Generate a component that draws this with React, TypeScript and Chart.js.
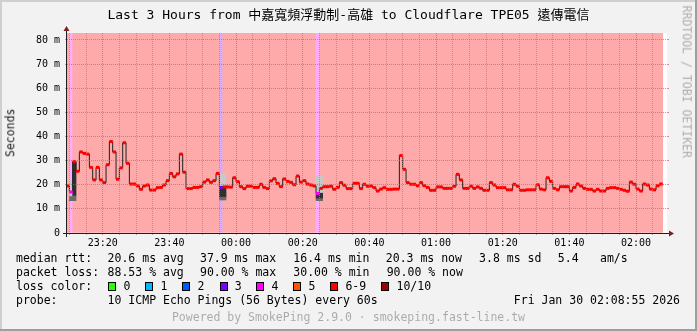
import React, { useEffect, useRef } from 'react';
import { Chart, registerables } from 'chart.js';

Chart.register(...registerables);

const MONO = "'DejaVu Sans Mono', 'Noto Sans CJK TC', monospace";

// ---------- text ----------
const titleText = 'Last 3 Hours from 中嘉寬頻浮動制-高雄 to Cloudflare TPE05 遠傳電信';
const yAxisTitle = 'Seconds';
const sideText = 'RRDTOOL / TOBI OETIKER';
const footerText = 'Powered by SmokePing 2.9.0 · smokeping.fast-line.tw';

const rttHeading = 'median rtt:';
const rttStats = ['20.6 ms avg', '37.9 ms max', '16.4 ms min', '20.3 ms now', '3.8 ms sd', '5.4', 'am/s'];
const lossHeading = 'packet loss:';
const lossStats = ['88.53 % avg', '90.00 % max', '30.00 % min', '90.00 % now'];
const colorHeading = 'loss color:';
const lossLegendLabels = ['0', '1', '2', '3', '4', '5', '6-9', '10/10'];
const lossLegendColors = ['#26ff00', '#00b8ff', '#0059ff', '#7e00ff', '#ff00ff', '#ff5500', '#ff0000', '#a10000'];
const probeHeading = 'probe:';
const probeText = '10 ICMP Echo Pings (56 Bytes) every 60s';
const dateText = 'Fri Jan 30 02:08:55 2026';

// ---------- axes (minutes relative to 23:20) ----------
const viewStart = -10.71;
const viewEnd = 169.29;
const yTop = 82.9;
const timeTickMinutes = [0, 20, 40, 60, 80, 100, 120, 140, 160];
const timeTickLabels = ['23:20', '23:40', '00:00', '00:20', '00:40', '01:00', '01:20', '01:40', '02:00'];
const yTickValues = [0, 10, 20, 30, 40, 50, 60, 70, 80];
const yTickLabels = ['0', '10 m', '20 m', '30 m', '40 m', '50 m', '60 m', '70 m', '80 m'];

// ---------- data: one value per 1-minute interval, first interval starts at -11 ----------
const firstIntervalStart = -11;
const medianRtt = [
  19.5, 17.0, 29.6, 25.6, 33.6, 33.0, 32.7, 27.2, 22.0, 27.2,
  22.0, 20.9, 28.3, 37.9, 33.6, 22.3, 27.0, 37.4, 28.9, 20.3,
  20.3, 19.5, 18.1, 19.5, 19.9, 17.8, 17.8, 18.8, 18.9, 19.9,
  21.7, 24.7, 23.3, 24.5, 32.7, 25.2, 18.4, 18.4, 18.9, 18.9,
  19.2, 21.1, 22.0, 21.0, 21.7, 24.7, 18.9, 19.1, 19.1, 19.0,
  22.9, 21.3, 19.2, 18.4, 19.4, 19.4, 18.9, 18.9, 20.2, 18.9,
  18.4, 21.6, 22.5, 20.6, 19.2, 22.4, 21.4, 21.0, 20.0, 23.6,
  21.1, 21.7, 20.3, 19.9, 19.5, 16.4, 18.5, 19.2, 19.2, 19.4,
  18.1, 18.9, 20.9, 19.8, 18.4, 18.4, 20.6, 20.6, 18.4, 20.2,
  19.4, 19.5, 18.8, 17.4, 18.2, 18.8, 18.1, 18.1, 18.2, 18.2,
  32.1, 26.4, 20.9, 20.2, 20.2, 19.6, 20.9, 19.6, 18.9, 17.7,
  17.7, 19.1, 19.1, 18.5, 18.5, 18.5, 19.4, 24.3, 22.0, 18.5,
  18.5, 19.4, 18.5, 19.1, 18.5, 17.7, 17.7, 20.9, 19.9, 18.8,
  18.8, 18.8, 17.9, 17.9, 20.2, 19.4, 17.7, 17.7, 17.9, 17.9,
  17.9, 20.0, 18.2, 17.9, 22.9, 21.4, 18.5, 17.9, 19.2, 19.2,
  19.2, 17.4, 18.9, 20.3, 19.5, 18.5, 18.1, 18.1, 17.4, 18.1,
  17.4, 17.4, 18.5, 18.8, 18.8, 18.5, 18.1, 17.7, 17.3, 21.1,
  20.2, 18.2, 17.4, 20.3, 19.9, 18.2, 17.9, 19.6, 20.3,
];
const lossPct = [
  90, 40, 60, 90, 90, 90, 90, 90, 90, 90,
  90, 90, 90, 90, 90, 90, 90, 90, 90, 90,
  90, 90, 90, 90, 90, 90, 90, 90, 90, 90,
  90, 90, 90, 90, 90, 90, 90, 90, 90, 90,
  90, 90, 90, 90, 90, 90, 30, 60, 90, 90,
  90, 90, 90, 90, 90, 90, 90, 90, 90, 90,
  90, 90, 90, 90, 90, 90, 90, 90, 90, 90,
  90, 90, 90, 90, 90, 40, 60, 90, 90, 90,
  90, 90, 90, 90, 90, 90, 90, 90, 90, 90,
  90, 90, 90, 90, 90, 90, 90, 90, 90, 90,
  90, 90, 90, 90, 90, 90, 90, 90, 90, 90,
  90, 90, 90, 90, 90, 90, 90, 90, 90, 90,
  90, 90, 90, 90, 90, 90, 90, 90, 90, 90,
  90, 90, 90, 90, 90, 90, 90, 90, 90, 90,
  90, 90, 90, 90, 90, 90, 90, 90, 90, 90,
  90, 90, 90, 90, 90, 90, 90, 90, 90, 90,
  90, 90, 90, 90, 90, 90, 90, 90, 90, 90,
  90, 90, 90, 90, 90, 90, 90, 90, 90,
];
// smoke (spread of the received pings) for the few intervals that have it
const smokeStart = [-10, -9, 35, 36, 64, 65];
const smokeMin = [13.4, 13.4, 13.7, 13.7, 13.4, 13.4];
const smokeDarkLow = [15.1, 15.6, 15.1, 15.1, 14.5, 14.5];
const smokeDarkHigh = [15.1, 29.4, 19.3, 19.3, 16.5, 16.5];
const smokeMax = [22.0, 29.4, 24.5, 24.5, 23.6, 23.6];

// ---------- helpers ----------
const bucketIndex = (p: number) => (p >= 100 ? 7 : p >= 60 ? 6 : Math.round(p / 10));
const tint = (hex: string, a: number) => {
  const n = parseInt(hex.slice(1), 16);
  const c = [(n >> 16) & 255, (n >> 8) & 255, n & 255].map((v) => Math.round(255 - a * (255 - v)));
  return `rgb(${c[0]},${c[1]},${c[2]})`;
};
const GRID = 'rgba(143,143,143,0.75)';
const MGRID = 'rgba(222,79,79,0.65)';

const framePlugin = {
  id: 'rrdFrame',
  beforeDraw(chart: any) {
    const { ctx, chartArea: a, width, height } = chart;
    ctx.save();
    ctx.fillStyle = '#f2f2f2';
    ctx.fillRect(0, 0, width, height);
    ctx.fillStyle = '#cfcfcf';
    ctx.fillRect(0, 0, width, 2);
    ctx.fillRect(0, 0, 2, height);
    ctx.fillStyle = '#9e9e9e';
    ctx.fillRect(0, height - 2, width, 2);
    ctx.fillRect(width - 2, 0, 2, height);
    ctx.fillStyle = '#ffffff';
    ctx.fillRect(a.left, a.top, a.right - a.left, a.bottom - a.top);
    ctx.restore();
  },
  afterDraw(chart: any) {
    const { ctx, chartArea: a } = chart;
    const ox = a.left - 0.5;
    const oy = a.bottom + 0.5;
    ctx.save();
    ctx.strokeStyle = '#1f1f1f';
    ctx.lineWidth = 1;
    ctx.beginPath();
    ctx.moveTo(a.left - 4, oy);
    ctx.lineTo(a.right + 4, oy);
    ctx.moveTo(ox, a.bottom + 4);
    ctx.lineTo(ox, a.top - 4);
    ctx.stroke();
    ctx.fillStyle = '#801f1f';
    ctx.beginPath();
    ctx.moveTo(a.right + 2, oy - 3);
    ctx.lineTo(a.right + 2, oy + 3);
    ctx.lineTo(a.right + 7, oy);
    ctx.closePath();
    ctx.fill();
    ctx.beginPath();
    ctx.moveTo(ox - 3, a.top - 2);
    ctx.lineTo(ox + 3, a.top - 2);
    ctx.lineTo(ox, a.top - 7);
    ctx.closePath();
    ctx.fill();
    ctx.restore();
  },
};

function Txt(props: { x: number; y: number; size?: number; color?: string; align?: string; children: any }) {
  const size = props.size ?? 11.5;
  const style: any = {
    position: 'absolute',
    top: props.y - 0.846 * size,
    fontFamily: MONO,
    fontSize: size,
    lineHeight: `${size}px`,
    color: props.color ?? '#000',
    whiteSpace: 'pre',
  };
  if (props.align === 'right') style.right = 697 - props.x;
  else if (props.align === 'center') {
    style.left = props.x - 348;
    style.width = 696;
    style.textAlign = 'center';
  } else style.left = props.x;
  return <div style={style}>{props.children}</div>;
}

function Rotated(props: { cx: number; cy: number; deg: number; size: number; color: string; children: any }) {
  const w = 200;
  return (
    <div
      style={{
        position: 'absolute',
        left: props.cx - w / 2,
        top: props.cy - props.size / 2,
        width: w,
        textAlign: 'center',
        fontFamily: MONO,
        fontSize: props.size,
        lineHeight: `${props.size}px`,
        color: props.color,
        whiteSpace: 'pre',
        transform: `rotate(${props.deg}deg)`,
        transformOrigin: 'center center',
      }}
    >
      {props.children}
    </div>
  );
}

export default function App() {
  const canvasRef = useRef<HTMLCanvasElement | null>(null);

  useEffect(() => {
    const canvas = canvasRef.current;
    if (!canvas) return;
    const xs = medianRtt.map((_, i) => firstIntervalStart + i + 0.5);
    const lossColors = lossPct.map((p) => lossLegendColors[bucketIndex(p)]);
    const smokeData = (lo: number[], hi: number[]) =>
      smokeStart.map((s, i) => ({ x: s + 0.5, y: hi[i] > lo[i] ? [lo[i], hi[i]] : null }));
    const barCommon = { grouped: false, barPercentage: 1, categoryPercentage: 1, borderWidth: 0 };

    const xTicks: number[] = [];
    for (let v = -10; v <= 165; v += 5) xTicks.push(v);
    const yTicks: number[] = [];
    for (let v = 0; v <= 80; v += 5) yTicks.push(v);

    const yScaleCommon = {
      type: 'linear',
      min: 0,
      max: yTop,
      offset: false,
      afterBuildTicks: (s: any) => {
        s.ticks = yTicks.map((v) => ({ value: v }));
      },
      border: { display: false, dash: [1, 1] },
    };

    const chart = new Chart(canvas, {
      type: 'bar',
      data: {
        datasets: [
          {
            type: 'bar',
            label: 'loss',
            data: xs.map((x) => ({ x, y: yTop })),
            backgroundColor: lossColors.map((c) => tint(c, 1 / 3)),
            order: 6,
            ...barCommon,
          },
          {
            type: 'bar',
            label: 'smoke light',
            data: smokeData(smokeDarkHigh, smokeMax),
            backgroundColor: '#c8c8c8',
            order: 5,
            ...barCommon,
          },
          {
            type: 'bar',
            label: 'smoke mid',
            data: smokeData(smokeMin, smokeDarkLow),
            backgroundColor: '#6a6a6a',
            order: 4,
            ...barCommon,
          },
          {
            type: 'bar',
            label: 'smoke dark',
            data: smokeData(smokeDarkLow, smokeDarkHigh),
            backgroundColor: '#303030',
            order: 3,
            ...barCommon,
          },
          {
            type: 'line',
            label: 'median',
            data: xs.map((x, i) => ({ x, y: medianRtt[i] })),
            borderColor: '#202020',
            borderWidth: 1,
            stepped: 'middle',
            pointRadius: 0,
            order: 2,
          },
          {
            type: 'line',
            label: 'median loss colour',
            data: xs.map((x, i) => ({ x, y: medianRtt[i] })),
            showLine: false,
            pointStyle: 'line',
            pointRadius: 1.7,
            pointBorderWidth: 3,
            pointBorderColor: lossColors,
            pointBackgroundColor: lossColors,
            order: 1,
          },
        ] as any,
      },
      options: {
        responsive: false,
        animation: false,
        devicePixelRatio: 1,
        events: [],
        layout: { padding: { top: 33, right: 0, bottom: 0, left: 0 } },
        plugins: { legend: { display: false }, tooltip: { enabled: false }, title: { display: false } },
        scales: {
          x: {
            type: 'linear',
            min: viewStart,
            max: viewEnd,
            offset: false,
            afterBuildTicks: (s: any) => {
              s.ticks = xTicks.map((v) => ({ value: v }));
            },
            afterFit: (s: any) => {
              s.height = 98;
            },
            ticks: {
              autoSkip: false,
              maxRotation: 0,
              minRotation: 0,
              padding: 2,
              color: '#000',
              font: { family: 'DejaVu Sans Mono', size: 10 },
              callback: (v: any) => {
                const k = timeTickMinutes.indexOf(Number(v));
                return k >= 0 ? timeTickLabels[k] : '';
              },
            },
            grid: {
              z: 1,
              offset: false,
              color: (c: any) => (c.tick && c.tick.value % 20 === 0 ? MGRID : GRID),
              tickColor: (c: any) => (c.tick && c.tick.value % 20 === 0 ? MGRID : GRID),
              lineWidth: 1,
              drawTicks: true,
              tickLength: 2,
            },
            border: { display: false, dash: [1, 1] },
          },
          y: {
            ...yScaleCommon,
            position: 'left',
            afterFit: (s: any) => {
              s.width = 67;
            },
            ticks: {
              padding: 5,
              color: '#000',
              font: { family: 'DejaVu Sans Mono', size: 10 },
              callback: (v: any) => {
                const k = yTickValues.indexOf(Number(v));
                return k >= 0 ? yTickLabels[k] : '';
              },
            },
            grid: {
              z: 1,
              offset: false,
              color: (c: any) => (c.tick && c.tick.value % 10 === 0 ? MGRID : GRID),
              tickColor: (c: any) => (c.tick && c.tick.value % 10 === 0 ? MGRID : GRID),
              lineWidth: 1,
              drawTicks: true,
              tickLength: 2,
            },
          },
          y2: {
            ...yScaleCommon,
            position: 'right',
            afterFit: (s: any) => {
              s.width = 30;
            },
            ticks: { callback: () => '', padding: 0 },
            grid: {
              z: 1,
              offset: false,
              drawOnChartArea: false,
              color: (c: any) => (c.tick && c.tick.value % 10 === 0 ? MGRID : GRID),
              tickColor: (c: any) => (c.tick && c.tick.value % 10 === 0 ? MGRID : GRID),
              drawTicks: true,
              tickLength: 2,
            },
          },
        } as any,
      },
      plugins: [framePlugin],
    } as any);
    return () => chart.destroy();
  }, []);

  const rttX = [107.6, 200, 293.3, 385.8, 479.1, 557.8, 600];
  const lossX = [107.6, 200, 293.3, 386.7];
  const boxX = [108.4, 145.3, 182.2, 219.6, 256.4, 293.3, 330.2, 381.3];

  return (
    <div style={{ position: 'fixed', left: 0, top: 0, width: 697, height: 331, overflow: 'hidden', background: '#f2f2f2' }}>
      <canvas ref={canvasRef} width={697} height={331} style={{ position: 'absolute', left: 0, top: 0, width: 697, height: 331 }} />
      <Txt x={348.5} y={19} size={13} align="center">{titleText}</Txt>
      <Rotated cx={10.8} cy={132.5} deg={-90} size={11.5} color="#1a1a1a">{yAxisTitle}</Rotated>
      <Rotated cx={686} cy={81.5} deg={90} size={11.5} color="rgba(0,0,0,0.3)">{sideText}</Rotated>

      <Txt x={16} y={263}>{rttHeading}</Txt>
      {rttStats.map((s, i) => (
        <Txt key={'r' + i} x={rttX[i]} y={263}>{s}</Txt>
      ))}
      <Txt x={16} y={277}>{lossHeading}</Txt>
      {lossStats.map((s, i) => (
        <Txt key={'l' + i} x={lossX[i]} y={277}>{s}</Txt>
      ))}
      <Txt x={16} y={291}>{colorHeading}</Txt>
      {lossLegendLabels.map((s, i) => (
        <React.Fragment key={'c' + i}>
          <div
            style={{
              position: 'absolute',
              left: Math.round(boxX[i]),
              top: 282,
              width: 8,
              height: 9,
              boxSizing: 'border-box',
              border: '1px solid #000',
              background: lossLegendColors[i],
            }}
          />
          <Txt x={boxX[i] + 15.2} y={291}>{s}</Txt>
        </React.Fragment>
      ))}
      <Txt x={16} y={305}>{probeHeading}</Txt>
      <Txt x={107.6} y={305}>{probeText}</Txt>
      <Txt x={680} y={305} align="right">{dateText}</Txt>
      <Txt x={348.5} y={321.5} align="center" color="rgba(0,0,0,0.3)">{footerText}</Txt>
    </div>
  );
}
